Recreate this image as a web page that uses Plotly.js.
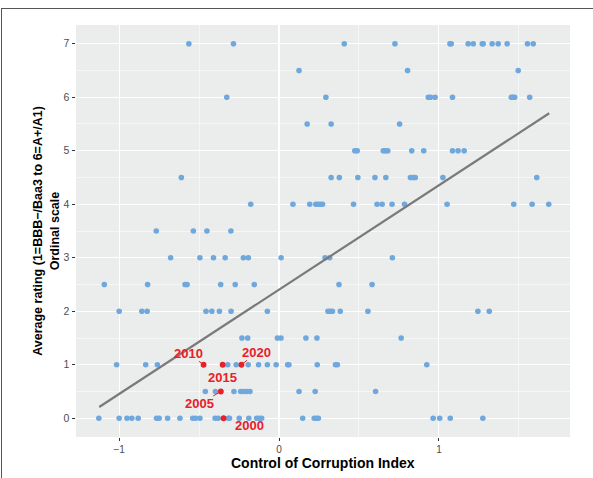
<!DOCTYPE html>
<html>
<head>
<meta charset="utf-8">
<script src="https://cdn.plot.ly/plotly-3.0.1.min.js"></script>
<style>
  html, body { margin: 0; padding: 0; background: #ffffff; }
  #chart { position: absolute; left: 0; top: 0; width: 593px; height: 478px; }
  #frame { position: absolute; left: 1px; top: 8px; width: 600px; height: 480px;
           border-top: 1px solid #555; border-left: 1px solid #555; pointer-events: none; }
</style>
</head>
<body>
<div id="chart"></div>
<div id="frame"></div>
<script>
// Rating levels (ordinal scale) and the Control of Corruption Index values observed at each level
const ratingLevels = [7, 6.5, 6, 5.5, 5, 4.5, 4, 3.5, 3, 2.5, 2, 1.5, 1, 0.5, 0];
const cocAt7   = [-0.564, -0.285, 0.408, 0.725, 1.069, 1.077, 1.183, 1.215, 1.271, 1.277, 1.333, 1.371, 1.427, 1.554, 1.590];
const cocAt6_5 = [0.125, 0.804, 1.496];
const cocAt6   = [-0.327, 0.293, 0.934, 0.948, 0.976, 1.085, 1.453, 1.462, 1.474, 1.568];
const cocAt5_5 = [0.176, 0.326, 0.754];
const cocAt5   = [0.474, 0.489, 0.652, 0.666, 0.680, 0.830, 0.905, 1.085, 1.120, 1.158];
const cocAt4_5 = [-0.611, 0.326, 0.377, 0.493, 0.600, 0.668, 0.822, 0.838, 0.852, 1.025, 1.612];
const cocAt4   = [-0.177, 0.087, 0.192, 0.230, 0.244, 0.258, 0.272, 0.466, 0.613, 0.645, 0.707, 0.785, 1.051, 1.468, 1.583, 1.687];
const cocAt3_5 = [-0.768, -0.536, -0.451, -0.301];
const cocAt3   = [-0.678, -0.495, -0.410, -0.337, -0.223, -0.192, 0.013, 0.288, 0.317, 0.709];
const cocAt2_5 = [-1.093, -0.822, -0.588, -0.575, -0.365, -0.274, -0.155, 0.375, 0.582];
const cocAt2   = [-1.0, -0.858, -0.825, -0.457, -0.420, -0.373, -0.300, -0.073, 0.306, 0.320, 0.334, 0.383, 0.556, 1.244, 1.315];
const cocAt1_5 = [-0.232, -0.196, -0.010, 0.012, 0.168, 0.237, 0.764];
const cocAt1   = [-1.016, -0.834, -0.761, -0.321, -0.268, -0.193, -0.128, -0.073, -0.018, 0.054, 0.062, 0.239, 0.353, 0.365, 0.924];
const cocAt0_5 = [-0.461, -0.398, -0.282, -0.240, -0.221, -0.201, -0.182, 0.125, 0.226, 0.604];
const cocAt0   = [-1.127, -1.0, -0.951, -0.921, -0.881, -0.766, -0.750, -0.697, -0.620, -0.540, -0.522, -0.495, -0.400, -0.381, -0.318, -0.310, -0.249, -0.189, -0.140, -0.126, -0.109, 0.148, 0.220, 0.233, 0.246, 0.964, 1.005, 1.071, 1.275];

// Highlighted country-years
const hlYears  = ['2000', '2005', '2010', '2015', '2020'];
const hlCoc    = [-0.347, -0.364, -0.472, -0.353, -0.235];
const hlRating = [0, 0.5, 1, 1, 1];
// label positions (data units) as placed in the reference
const hlLabelX = [-0.187, -0.498, -0.566, -0.353, -0.140];
const hlLabelY = [-0.143, 0.268, 1.216, 0.754, 1.234];
const hlLeader = [false, true, true, false, true];

// Linear fit line
const fitX = [-1.125, 1.690];
const fitY = [0.21, 5.70];

const xTickVals = [-1, 0, 1];
const yTickVals = [0, 1, 2, 3, 4, 5, 6, 7];
const xTitle = 'Control of Corruption Index';
const yTitle = 'Average rating (1=BBB−/Baa3 to 6=A+/A1)<br>Ordinal scale';

const groups = [cocAt7, cocAt6_5, cocAt6, cocAt5_5, cocAt5, cocAt4_5, cocAt4, cocAt3_5, cocAt3, cocAt2_5, cocAt2, cocAt1_5, cocAt1, cocAt0_5, cocAt0];
const allX = [], allY = [];
groups.forEach((g, i) => g.forEach(v => { allX.push(v); allY.push(ratingLevels[i]); }));

const FONT = 'Liberation Sans, Arial, Helvetica, sans-serif';
const RED = '#e8202a';

const traces = [
  { type: 'scatter', mode: 'markers', x: allX, y: allY,
    marker: { color: '#6fa8dc', size: 5.6, line: { width: 0 } }, hoverinfo: 'skip' },
  { type: 'scatter', mode: 'lines', x: fitX, y: fitY,
    line: { color: '#7a7a7a', width: 2.2 }, hoverinfo: 'skip' },
  { type: 'scatter', mode: 'markers', x: hlCoc, y: hlRating,
    marker: { color: RED, size: 5.8, line: { width: 0 } }, hoverinfo: 'skip' }
];

const annotations = hlYears.map((yr, i) => hlLeader[i] ? {
  x: hlCoc[i], y: hlRating[i], xref: 'x', yref: 'y',
  ax: hlLabelX[i], ay: hlLabelY[i], axref: 'x', ayref: 'y',
  text: '<b>' + yr + '</b>', showarrow: true, arrowhead: 0, arrowwidth: 1,
  arrowcolor: RED, standoff: 2, borderpad: 0,
  font: { family: FONT, size: 13, color: RED }
} : {
  x: hlLabelX[i], y: hlLabelY[i], xref: 'x', yref: 'y',
  text: '<b>' + yr + '</b>', showarrow: false,
  font: { family: FONT, size: 13, color: RED }
});
annotations.push({
  x: 0.5, y: -0.063, xref: 'paper', yref: 'paper', xanchor: 'center', yanchor: 'middle',
  text: '<b>' + xTitle + '</b>', showarrow: false, borderpad: 0,
  font: { family: FONT, size: 14, color: '#000000' }
});

const layout = {
  width: 593, height: 478,
  margin: { l: 76, r: 23, t: 25, b: 41 },
  paper_bgcolor: '#ffffff',
  plot_bgcolor: '#ebecec',
  showlegend: false,
  font: { family: FONT },
  xaxis: {
    range: [-1.27, 1.82], tickvals: xTickVals, ticks: 'outside', ticklen: 2.5, tickwidth: 1,
    tickcolor: '#333333', tickfont: { size: 10, color: '#4d4d4d' },
    showgrid: true, gridcolor: '#ffffff', gridwidth: 1.1, zeroline: false, showline: false,
    minor: { dtick: 0.5, tick0: 0, showgrid: true, gridcolor: '#ffffff', gridwidth: 0.5, ticks: '' }
  },
  yaxis: {
    range: [-0.35, 7.35], tickvals: yTickVals, ticks: 'outside', ticklen: 3.5, tickwidth: 1,
    tickcolor: '#333333', tickfont: { size: 10.5, color: '#4d4d4d' },
    showgrid: true, gridcolor: '#ffffff', gridwidth: 1.1, zeroline: false, showline: false,
    minor: { dtick: 0.5, tick0: 0, showgrid: true, gridcolor: '#ffffff', gridwidth: 0.5, ticks: '' },
    title: { text: '<b>' + yTitle + '</b>', font: { size: 12.5, color: '#000000' }, standoff: 1 }
  },
  annotations: annotations
};

Plotly.newPlot('chart', traces, layout, { displayModeBar: false, staticPlot: true });
</script>
</body>
</html>
